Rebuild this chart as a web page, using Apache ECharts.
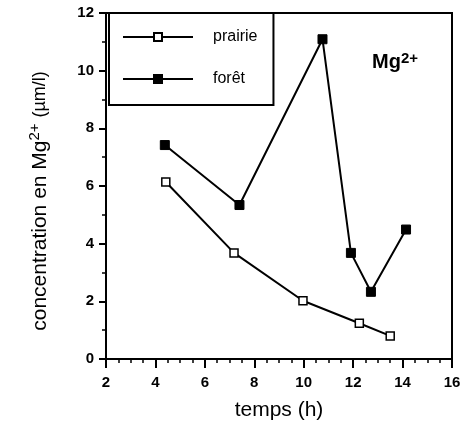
<!DOCTYPE html>
<html>
<head>
<meta charset="utf-8">
<script src="https://cdn.jsdelivr.net/npm/echarts@6/dist/echarts.min.js"></script>
<style>
  html, body { margin: 0; padding: 0; background: #fff; }
  #main { width: 460px; height: 421px; }
</style>
</head>
<body>
<div id="main"></div>
<script>
// données
var prairieTemps = [4.42, 7.18, 9.97, 12.25, 13.5];
var prairieMg = [6.14, 3.68, 2.02, 1.24, 0.8];
var foretTemps = [4.38, 7.4, 10.76, 11.91, 12.72, 14.14];
var foretMg = [7.42, 5.34, 11.09, 3.68, 2.33, 4.49];
var seriesNames = ['prairie', 'forêt'];

function pairs(xs, ys) {
    return xs.map(function (x, i) { return [x, ys[i]]; });
}

var font = 'Liberation Sans, Arial, Helvetica, sans-serif';
var myChart = echarts.init(document.getElementById('main'));

var option = {
    animation: false,
    textStyle: { fontFamily: font, color: '#000' },
    grid: {
        left: 106, right: 8, top: 13, bottom: 62,
        outerBoundsMode: 'none',
        show: true, borderColor: '#000', borderWidth: 2
    },
    legend: {
        orient: 'vertical',
        left: 109, top: 13,
        padding: [16, 16, 18, 13],
        itemWidth: 70, itemHeight: 10, itemGap: 26,
        borderColor: '#000', borderWidth: 2,
        textStyle: { fontFamily: font, fontSize: 16, color: '#000', padding: [0, 0, 0, 15] },
        data: seriesNames
    },
    title: {
        text: 'Mg{sup|2+}',
        left: 372, top: 51,
        padding: 0,
        textStyle: {
            fontFamily: font, fontSize: 20, fontWeight: 'bold', color: '#000',
            rich: { sup: { fontSize: 15, fontWeight: 'bold', verticalAlign: 'top', padding: [0, 0, 8, 0], fontFamily: font } }
        }
    },
    xAxis: {
        type: 'value',
        min: 2, max: 16, interval: 2,
        name: 'temps (h)',
        nameLocation: 'middle',
        nameGap: 41,
        nameTextStyle: { fontSize: 21, color: '#000', fontFamily: font },
        axisLine: { lineStyle: { color: '#000', width: 2 } },
        axisTick: { length: 9, lineStyle: { color: '#000', width: 2 } },
        minorTick: { show: true, splitNumber: 4, length: 4, lineStyle: { color: '#000', width: 1.5 } },
        splitLine: { show: false },
        axisLabel: { fontSize: 15, fontWeight: 'bold', color: '#000', margin: 16, fontFamily: font }
    },
    yAxis: {
        type: 'value',
        min: 0, max: 12, interval: 2,
        name: 'concentration en Mg{sup|2+} {s|(µm/l)}',
        nameLocation: 'middle',
        nameGap: 52,
        nameTextStyle: {
            fontSize: 21, color: '#000', fontFamily: font,
            padding: [0, 30, 0, 0],
            rich: {
                sup: { fontSize: 15, verticalAlign: 'top', padding: [0, 0, 12, 0], fontFamily: font },
                s: { fontSize: 18, fontFamily: font }
            }
        },
        axisLine: { lineStyle: { color: '#000', width: 2 } },
        axisTick: { length: 7, lineStyle: { color: '#000', width: 2 } },
        minorTick: { show: true, splitNumber: 2, length: 4, lineStyle: { color: '#000', width: 1.5 } },
        splitLine: { show: false },
        axisLabel: { fontSize: 15, fontWeight: 'bold', color: '#000', margin: 12, fontFamily: font }
    },
    series: [
        {
            name: seriesNames[0],
            type: 'line',
            data: pairs(prairieTemps, prairieMg),
            symbol: 'rect',
            symbolSize: 8,
            lineStyle: { color: '#000', width: 2 },
            itemStyle: { color: '#fff', borderColor: '#000', borderWidth: 1.5 }
        },
        {
            name: seriesNames[1],
            type: 'line',
            data: pairs(foretTemps, foretMg),
            symbol: 'rect',
            symbolSize: 9,
            lineStyle: { color: '#000', width: 2 },
            itemStyle: { color: '#000', borderColor: '#000', borderWidth: 1 }
        }
    ]
};
myChart.setOption(option);
</script>
</body>
</html>
